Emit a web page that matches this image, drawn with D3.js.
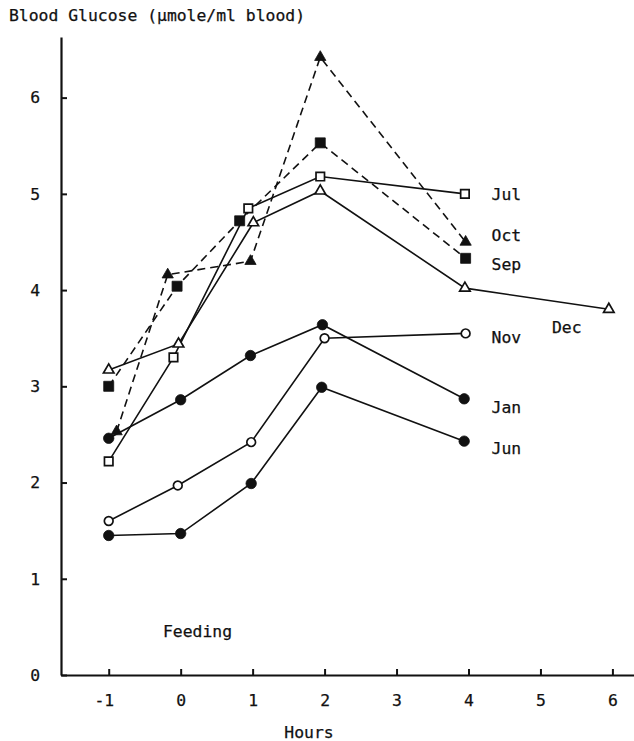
<!DOCTYPE html>
<html>
<head>
<meta charset="utf-8">
<script src="https://cdn.jsdelivr.net/npm/d3@7"></script>
<style>
  body { margin: 0; background: #fff; }
  text { font-family: "DejaVu Sans Mono", monospace; font-size: 16.4px; fill: #111; stroke: #111; stroke-width: 0.25px; }
</style>
</head>
<body>
<script>

// hours after feeding (points are nudged a bit left/right in the original)
let julHours = [-1, -0.1, 0.94, 1.94, 3.95]
let julGlucose = [2.22, 3.30, 4.85, 5.18, 5.00]

let octHours = [-0.89, -0.18, 0.97, 1.94, 3.96]
let octGlucose = [2.53, 4.16, 4.30, 6.42, 4.50]

let sepHours = [-1, -0.05, 0.82, 1.94, 3.96]
let sepGlucose = [3.00, 4.04, 4.72, 5.53, 4.33]

let decHours = [-1, -0.03, 1.01, 1.94, 3.95, 5.95]
let decGlucose = [3.17, 3.44, 4.70, 5.03, 4.02, 3.80]

let novHours = [-1, -0.04, 0.98, 2.0, 3.96]
let novGlucose = [1.60, 1.97, 2.42, 3.50, 3.55]

let janHours = [-1, 0, 0.97, 1.97, 3.94]
let janGlucose = [2.46, 2.86, 3.32, 3.64, 2.87]

let junHours = [-1, 0, 0.98, 1.96, 3.94]
let junGlucose = [1.45, 1.47, 1.99, 2.99, 2.43]

let xTicks = [-1, 0, 1, 2, 3, 4, 5, 6]
let yTicks = [0, 1, 2, 3, 4, 5, 6]

// month name, marker, filled?, dashed?
let series = [
    {name: 'Jul', hours: julHours, glucose: julGlucose, shape: d3.symbolSquare, filled: false, dashed: false},
    {name: 'Oct', hours: octHours, glucose: octGlucose, shape: d3.symbolTriangle, filled: true, dashed: true},
    {name: 'Sep', hours: sepHours, glucose: sepGlucose, shape: d3.symbolSquare, filled: true, dashed: true},
    {name: 'Dec', hours: decHours, glucose: decGlucose, shape: d3.symbolTriangle, filled: false, dashed: false},
    {name: 'Nov', hours: novHours, glucose: novGlucose, shape: d3.symbolCircle, filled: false, dashed: false},
    {name: 'Jan', hours: janHours, glucose: janGlucose, shape: d3.symbolCircle, filled: true, dashed: false},
    {name: 'Jun', hours: junHours, glucose: junGlucose, shape: d3.symbolCircle, filled: true, dashed: false}
]

// where the month names sit, in hours / glucose units
let labelPos = [
    ['Jul', 4.32, 4.94],
    ['Oct', 4.32, 4.51],
    ['Sep', 4.32, 4.21],
    ['Dec', 5.16, 3.55],
    ['Nov', 4.32, 3.45],
    ['Jan', 4.32, 2.72],
    ['Jun', 4.32, 2.30]
]

let width = 634
let height = 741

let svg = d3.select("body")
            .append("svg")
            .attr('width', width)
            .attr('height', height)

let xScale = d3.scaleLinear()
                .domain([-1.663, 6.3])
                .range([61, 634])

let yScale = d3.scaleLinear()
                .domain([0, 6.63])
                .range([675, 37])

let drawAxes = () => {
    let xAxis = d3.axisBottom(xScale)
                    .tickValues(xTicks)
                    .tickSizeInner(-6)
                    .tickSizeOuter(0)
                    .tickPadding(19)
                    .tickFormat(d => d < 0 ? '-' + Math.abs(d) : d)

    let yAxis = d3.axisLeft(yScale)
                    .tickValues(yTicks)
                    .tickSizeInner(-6)
                    .tickSizeOuter(0)
                    .tickPadding(21)
                    .tickFormat(d3.format('d'))

    let gx = svg.append('g')
        .attr('id', 'x-axis')
        .attr('transform', 'translate(0,' + yScale(0) + ')')
        .call(xAxis)

    let gy = svg.append('g')
        .attr('id', 'y-axis')
        .attr('transform', 'translate(' + xScale(-1.663) + ',0)')
        .call(yAxis)

    for (let g of [gx, gy]) {
        g.select('.domain').attr('stroke', '#111').attr('stroke-width', 2.2)
        g.selectAll('.tick line').attr('stroke', '#111').attr('stroke-width', 2)
        g.selectAll('.tick text')
            .attr('font-family', '"DejaVu Sans Mono", monospace')
            .attr('font-size', 16.4)
            .attr('fill', '#111')
    }
    // the minus sign hangs left of the tick
    gx.selectAll('.tick text').filter(d => d < 0).attr('dx', '-0.3em')
}

let drawSeries = () => {
    let line = d3.line()
                .x(d => xScale(d[0]))
                .y(d => yScale(d[1]))

    series.forEach(s => {
        let pts = s.hours.map((h, i) => [h, s.glucose[i]])
        svg.append('path')
            .datum(pts)
            .attr('d', line)
            .attr('fill', 'none')
            .attr('stroke', '#111')
            .attr('stroke-width', 1.6)
            .attr('stroke-dasharray', s.dashed ? '8,5' : null)
    })

    series.forEach(s => {
        let pts = s.hours.map((h, i) => [h, s.glucose[i]])
        let size
        if (s.shape === d3.symbolCircle) size = s.filled ? 85 : 60
        else if (s.shape === d3.symbolSquare) size = s.filled ? 100 : 72
        else size = s.filled ? 55 : 48
        svg.selectAll(null)
            .data(pts)
            .enter()
            .append('path')
            .attr('d', d3.symbol().type(s.shape).size(size))
            .attr('transform', d => 'translate(' + xScale(d[0]) + ',' + yScale(d[1]) + ')')
            .attr('fill', s.filled ? '#111' : '#fff')
            .attr('stroke', '#111')
            .attr('stroke-width', s.filled ? 0.8 : 1.7)
    })
}

let drawText = () => {
    svg.append('text')
        .attr('x', 9)
        .attr('y', 21)
        .text('Blood Glucose (\u00b5mole/ml blood)')

    svg.append('text')
        .attr('x', 309)
        .attr('y', 738)
        .attr('text-anchor', 'middle')
        .text('Hours')

    svg.append('text')
        .attr('x', 163)
        .attr('y', 637)
        .text('Feeding')

    svg.selectAll('.month')
        .data(labelPos)
        .enter()
        .append('text')
        .attr('class', 'month')
        .attr('x', d => xScale(d[1]))
        .attr('y', d => yScale(d[2]))
        .text(d => d[0])
}

drawAxes()
drawSeries()
drawText()

</script>
</body>
</html>
